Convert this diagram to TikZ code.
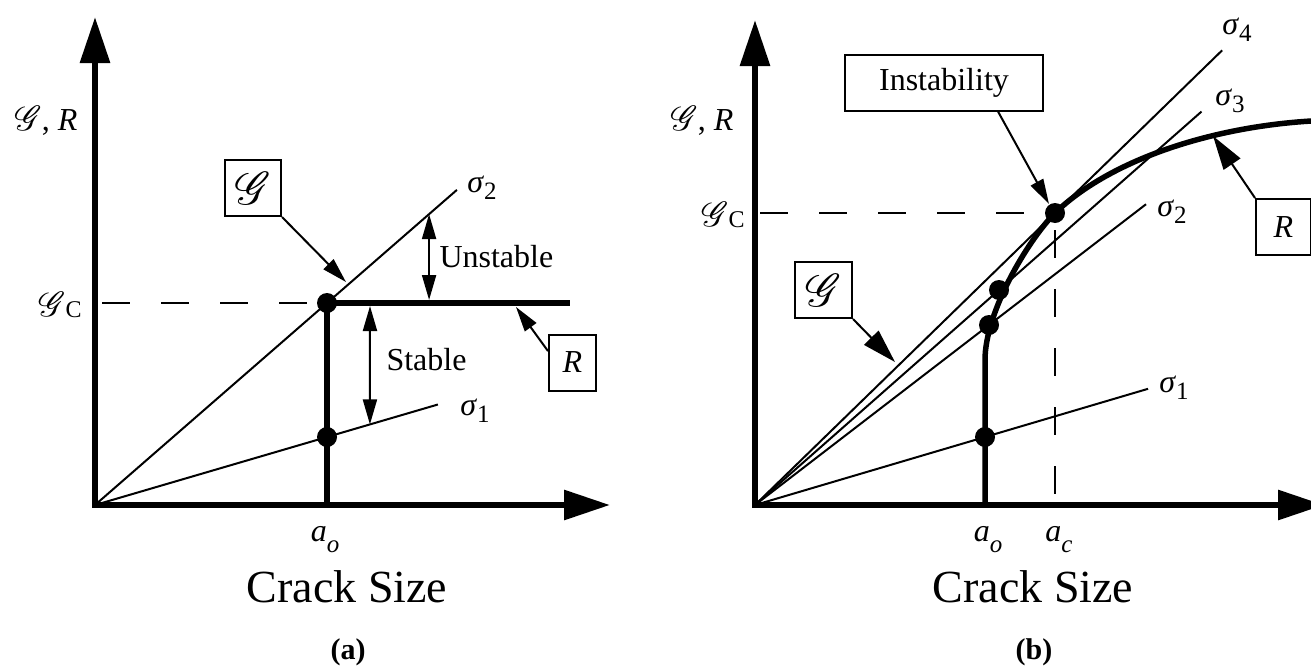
\documentclass[tikz,border=0pt]{standalone}
\usepackage{graphicx}
\usepackage{fontspec}
\setmainfont{Liberation Serif}
\usepackage{mathrsfs}
\usetikzlibrary{arrows.meta,positioning,calc}

\newcommand{\Gs}[1][1.4]{\scalebox{#1}{$\mathscr{G}$}}
\newcommand{\sig}[1]{\textit{σ}\raisebox{-0.45ex}{\fontsize{25}{25}\selectfont#1}}
\newcommand{\crk}[1]{\textit{a}\raisebox{-0.75ex}{\fontsize{25}{25}\selectfont\textit{#1}}}
\newcommand{\Gc}{\Gs\raisebox{-0.1ex}{\fontsize{24}{24}\selectfont C}}

\begin{document}
\begin{tikzpicture}[x=1pt, y=-1pt,
    font=\fontsize{32}{38}\selectfont,
    axisline/.style={line width=6pt, {Triangle[length=46pt,width=29pt]}-{Triangle[length=46pt,width=29pt]}},
    rcurve/.style={line width=5.5pt},
    gline/.style={line width=2pt},
    dashln/.style={line width=2.5pt, dash pattern=on 28pt off 31pt},
    dot/.style={circle, fill, inner sep=0pt, minimum size=20pt},
    lbox/.style={draw, line width=2pt, inner sep=0pt, minimum height=56pt},
    ptr/.style={line width=2pt, -{Triangle[length=25pt,width=14pt]}},
    bigptr/.style={line width=2pt, -{Triangle[length=34pt,width=20pt]}},
    dbl/.style={line width=2pt, {Triangle[length=25pt,width=14pt]}-{Triangle[length=25pt,width=14pt]}},
    big/.style={font=\fontsize{46}{52}\selectfont},
    tag/.style={font=\bfseries\fontsize{30}{36}\selectfont}
]
\useasboundingbox (0,0) rectangle (1311,667);
\clip (0,0) rectangle (1311,667);

% (a)
\coordinate (Oa) at (95,505);
\coordinate (ytipa) at (95,17);
\coordinate (xtipa) at (610,505);
\coordinate (basea) at (327,505);
\coordinate (rend) at (570,303);
\node[dot] (gca) at (327,303) {};
\node[dot] (s1a) at (327,437) {};
\coordinate (s2enda) at ($(Oa)!1.56!(gca)$);
\coordinate (s1enda) at ($(Oa)!1.478!(s1a)$);
\coordinate (ua) at ($(Oa)!1.44!(gca)$);
\coordinate (sa) at (370,306);
\coordinate (sb) at ($(Oa)!1.185!(s1a)$);
\coordinate (gtipa) at (346,282);
\coordinate (rtipa) at (516,307);

\draw[axisline] (ytipa) -- (Oa) -- (xtipa);
\draw[dashln] (102,303) -- (gca);
\draw[gline] (Oa) -- (s2enda);
\draw[gline] (Oa) -- (s1enda);
\draw[rcurve] (basea) -- (gca.center) -- (rend);
\draw[dbl, shorten >=3pt] (ua) -- (ua |- gca);
\draw[dbl] (sa) -- (sb);

\node[lbox, minimum width=56pt] (gboxa) at (253,188) {\Gs[1.85]};
\node[lbox, minimum width=47pt] (rboxa) at (572.5,362.5) {\textit{R}};
\draw[ptr] (gboxa.south east) -- (gtipa);
\draw[ptr] (rboxa.155) -- (rtipa);

\node (sigtwoa) at (482,188) {\sig{2}};
\node (sigonea) at (475,411) {\sig{1}};
\node[anchor=west] (unst) at (436,257) {Unstable};
\node[anchor=west] (stab) at (383,360) {Stable};
\node (axlbla) at (46,121) {\Gs, \textit{R}};
\node (gclbla) at (60,305) {\Gc};
\node[anchor=base] (aolbla) at (325,541) {\crk{o}};
\node[big, anchor=base] (xlbla) at (347,602) {Crack Size};
\node[tag, anchor=base] (capa) at (348,659) {(a)};

% (b)
\coordinate (Ob) at (755,505);
\coordinate (ytipb) at (755,20);
\coordinate (xtipb) at (1324,505);
\coordinate (baseb) at (985,505);
\coordinate (gcb) at (760,213);
\coordinate (acb) at (1055,230);
\node[dot] (p1b) at (985,437) {};
\node[dot] (p2b) at (989,325) {};
\node[dot] (p3b) at (999,290) {};
\node[dot] (p4b) at (1055,213) {};
\coordinate (s1endb) at ($(Ob)!1.709!(p1b)$);
\coordinate (s2endb) at ($(Ob)!1.671!(p2b)$);
\coordinate (s3endb) at ($(Ob)!1.83!(p3b)$);
\coordinate (s4endb) at ($(Ob)!1.557!(p4b)$);
\coordinate (gtipb) at (895,362);
\coordinate (rtipb) at (1213,136);
\coordinate (itip) at (1049,204);

\draw[axisline] (ytipb) -- (Ob) -- (xtipb);
\draw[dashln] (gcb) -- (p4b.center);
\draw[dashln] (acb) -- (acb |- Ob);
\draw[gline] (Ob) -- (s1endb);
\draw[gline] (Ob) -- (s2endb);
\draw[gline] (Ob) -- (s3endb);
\draw[gline] (Ob) -- (s4endb);
\draw[rcurve] (baseb) -- (985,360) .. controls (985,312) and (1028,240) .. (p4b.center)
    .. controls (1115,155) and (1230,121) .. (1340,120);

\node[lbox, minimum width=198pt] (instab) at (944,82.5) {Instability};
\node[lbox, minimum width=57pt] (gboxb) at (823.5,290) {\Gs[1.85]};
\node[lbox, minimum width=55pt] (rboxb) at (1283.5,227) {\textit{R}};
\draw[ptr] ($(instab.south west)!0.77!(instab.south east)$) -- (itip);
\draw[bigptr] (gboxb.south east) -- (gtipb);
\draw[bigptr] (rboxb.north west) -- (rtipb);

\node (sigfourb) at (1237,30) {\sig{4}};
\node (sigthreeb) at (1230,101) {\sig{3}};
\node (sigtwob) at (1172,212) {\sig{2}};
\node (sigoneb) at (1174,388) {\sig{1}};
\node (axlblb) at (702,121) {\Gs, \textit{R}};
\node (gclblb) at (723,215) {\Gc};
\node[anchor=base] (aolblb) at (988,541) {\crk{o}};
\node[anchor=base] (aclblb) at (1059,541) {\crk{c}};
\node[big, anchor=base] (xlblb) at (1033,602) {Crack Size};
\node[tag, anchor=base] (capb) at (1034,659) {(b)};
\end{tikzpicture}
\end{document}
